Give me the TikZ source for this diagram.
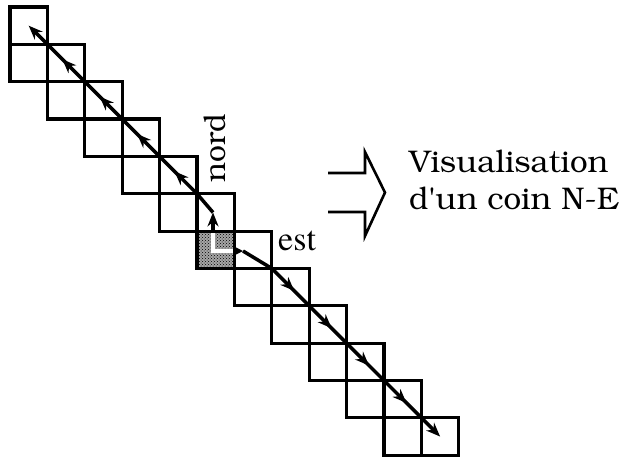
\documentclass[tikz,border=0pt]{standalone}
\usepackage[T1,TU]{fontenc}
\usetikzlibrary{arrows.meta,decorations.markings,patterns}
\newcommand\bkfont{\fontencoding{T1}\fontfamily{pbk}\selectfont}
\newcommand\tmfont{\fontencoding{T1}\fontfamily{ptm}\selectfont}
\begin{document}
\begin{tikzpicture}[x=1pt,y=-1pt,
  cellbox/.style={draw=black,line width=3.2pt},
  track/.style={line width=3.5pt},
  midtip/.style={postaction={decorate},decoration={markings,
      mark=at position 0.6 with {\arrow{Stealth[length=14pt,width=11pt,inset=4.5pt]}}}},
  endtip/.style={-{Stealth[length=14pt,width=11pt,inset=4.5pt]}},
  lbl/.style={inner sep=0pt}]
\useasboundingbox (0,0) rectangle (628,458);
\def\ox{10}\def\oy{7}\def\ux{37.4}\def\uy{37.35}
% shaded cell (col 5, row 6)
\fill[black!35] ({\ox+\ux*5},{\oy+\uy*6}) rectangle ++(\ux,\uy);
\fill[pattern=crosshatch dots] ({\ox+\ux*5},{\oy+\uy*6}) rectangle ++(\ux,\uy);
% coordinates
\coordinate (C0) at ({\ox+\ux*0.5},{\oy+\uy*0.5});
\foreach \k in {1,...,5} \coordinate (K\k) at ({\ox+\ux*\k},{\oy+\uy*\k});
\coordinate (C5) at (213,{\oy+\uy*5.5});
\coordinate (S) at (213,251);
\coordinate (Stop) at (213,{\oy+\uy*6});
\coordinate (Sright) at ({\ox+\ux*6},251);
\coordinate (E) at (243,251);
\foreach \k in {7,...,11} \coordinate (L\k) at ({\ox+\ux*\k},{\oy+\uy*\k});
\coordinate (C11) at ({\ox+\ux*11.5},{\oy+\uy*11.5});
% white L inside the shaded cell
\draw[white,line width=4.5pt] (Stop) -- (S) -- (Sright);
% cells
\draw[cellbox] ({\ox},{\oy}) rectangle ++(\ux,\uy);
\foreach \r in {1,...,11}{
  \draw[cellbox] ({\ox+\ux*(\r-1)},{\oy+\uy*\r}) rectangle ++(\ux,\uy);
  \draw[cellbox] ({\ox+\ux*\r},{\oy+\uy*\r}) rectangle ++(\ux,\uy);
}
% upper track
\draw[track] (C5) -- (K5);
\draw[track,midtip] (K5) -- (K4);
\draw[track,midtip] (K4) -- (K3);
\draw[track,midtip] (K3) -- (K2);
\draw[track,midtip] (K2) -- (K1);
\draw[track,endtip] (K1) -- (C0);
% nord / est
\draw[track,endtip] (Stop) -- (C5);
\draw[track,-{Stealth[length=9pt,width=9pt,inset=3pt]}] (Sright) -- (E);
\draw[track] (E) -- (L7);
% lower track
\draw[track,midtip] (L7) -- (L8);
\draw[track,midtip] (L8) -- (L9);
\draw[track,midtip] (L9) -- (L10);
\draw[track,midtip] (L10) -- (L11);
\draw[track,endtip] (L11) -- (C11);
% labels
\node[lbl,rotate=90,anchor=base,font=\bkfont\fontsize{30}{36}\selectfont] (nord) at (225,148) {nord};
\node[lbl,anchor=base west,font=\tmfont\fontsize{34}{40}\selectfont] (est) at (278,250) {est};
% hollow arrow
\draw[line width=2.6pt,line join=miter] (328,173) -- (365,173) -- (365,152) -- (385,192.5) -- (365,236) -- (365,212) -- (328,212);
\node[lbl,anchor=base west,font=\bkfont\fontsize{31.3}{38}\selectfont] (vis) at (409,172) {Visualisation};
\node[lbl,anchor=base west,font=\bkfont\fontsize{31.3}{38}\selectfont] (coin) at (409,209) {d\textquotesingle un coin N-E};
\end{tikzpicture}
\end{document}
